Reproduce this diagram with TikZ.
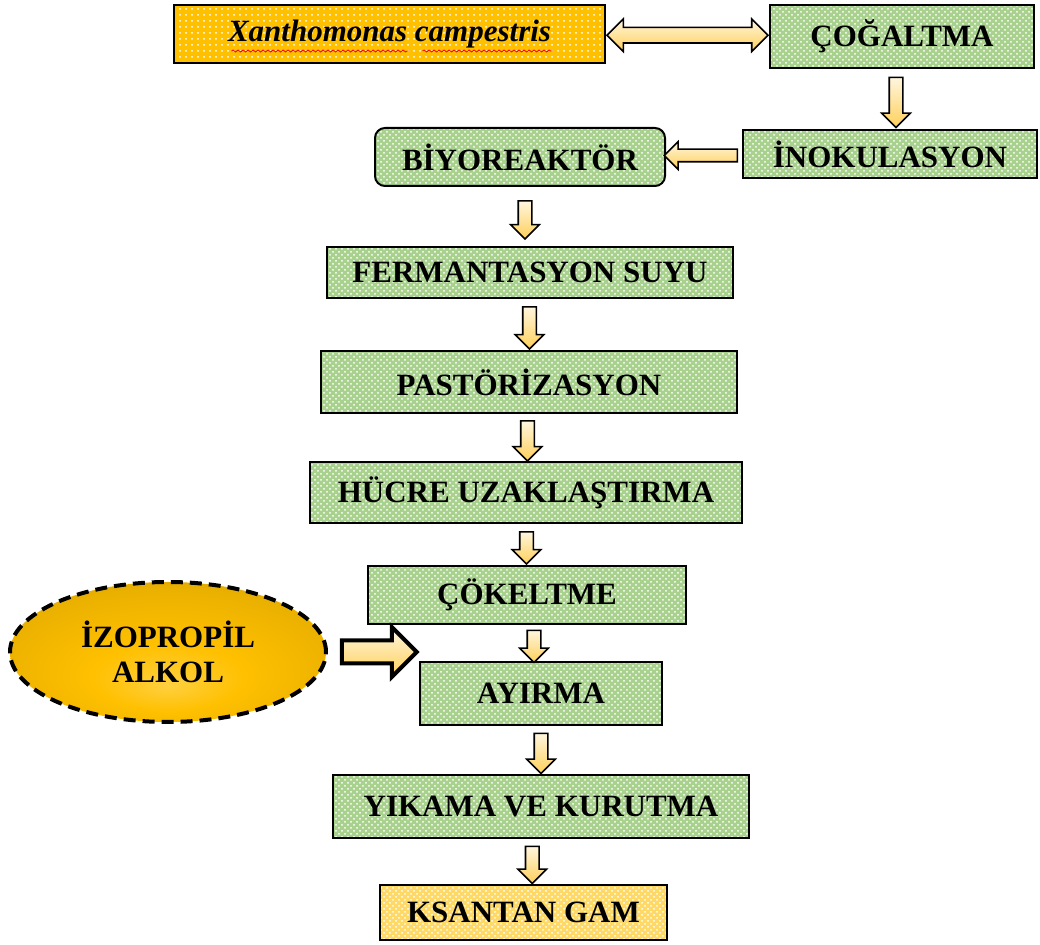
\documentclass[tikz,border=0pt]{standalone}
\usepackage{fontspec}
\setmainfont{Liberation Serif}
\usetikzlibrary{shapes.arrows,shapes.geometric,patterns,calc,decorations.pathmorphing}

\definecolor{kutuyesil}{HTML}{A9D18E}
\definecolor{xturuncu}{HTML}{FFC000}
\definecolor{gamsari}{HTML}{FFD966}
\definecolor{okacik}{HTML}{FFF6DE}
\definecolor{okkoyu}{HTML}{FFD05A}
\pgfdeclareradialshading{altin}{\pgfpoint{0bp}{-12bp}}{%
  color(0bp)=(xturuncu!75!white); color(12bp)=(xturuncu); color(28bp)=(xturuncu!92!black);
  color(42bp)=(xturuncu!72!black); color(50bp)=(xturuncu!62!black)}

\tikzset{
  yazi/.style={font=\fontsize{15.5}{17.5}\selectfont\bfseries, text=black, inner sep=0pt},
  kutu/.style={yazi, draw=black, line width=1pt, preaction={fill=kutuyesil},
    pattern=crosshatch dots, pattern color=white},
  ok/.style={single arrow, draw=black, line width=0.8pt,
    top color=okacik, bottom color=okkoyu},
  asagiok/.style={ok, shape border rotate=270, inner sep=3pt,
    single arrow head extend=3.75pt},
}

\begin{document}
\begin{tikzpicture}[x=0.5pt,y=-0.5pt]
  \useasboundingbox (0,0) rectangle (1040,945);

  \node[yazi, draw=black, line width=1pt, preaction={fill=xturuncu}, pattern=dots,
    pattern color=white, minimum width=215.5pt, minimum height=29pt]
    (xan) at (389.5,34) {\itshape Xanthomonas campestris};
  \draw[red, line width=0.4pt, decorate, decoration={snake, amplitude=0.5pt, segment length=2.5pt}]
    ($(xan.center)+(-158,17)$) -- ($(xan.center)+(19,17)$);
  \draw[red, line width=0.4pt, decorate, decoration={snake, amplitude=0.5pt, segment length=2.5pt}]
    ($(xan.center)+(33,17)$) -- ($(xan.center)+(163,17)$);

  \node[kutu, minimum width=132pt, minimum height=31.5pt] (cog) at (902,36.5) {ÇOĞALTMA};
  \node[kutu, minimum width=147pt, minimum height=24pt] (inok) at (890,154) {İNOKULASYON};
  \node[kutu, rounded corners=5pt, minimum width=145pt, minimum height=29pt] (biyo) at (520,157) {BİYOREAKTÖR};
  \node[kutu, minimum width=203pt, minimum height=25.5pt] (ferm) at (530,272.5) {FERMANTASYON SUYU};
  \node[kutu, minimum width=208pt, minimum height=31pt] (past) at (529,382) {PASTÖRİZASYON};
  \node[kutu, minimum width=216pt, minimum height=30.5pt] (hucre) at (526,492.5) {HÜCRE UZAKLAŞTIRMA};
  \node[kutu, minimum width=159pt, minimum height=29pt] (cok) at (527,595) {ÇÖKELTME};
  \node[kutu, minimum width=121pt, minimum height=31.5pt] (ayir) at (541,693.5) {AYIRMA};
  \node[kutu, minimum width=208pt, minimum height=31.5pt] (yika) at (541,806.5) {YIKAMA VE KURUTMA};
  \node[yazi, draw=black, line width=1pt, preaction={fill=gamsari}, pattern=crosshatch dots,
    pattern color=white, minimum width=143.5pt, minimum height=27.5pt]
    (gam) at (523.5,912.5) {KSANTAN GAM};

  \node[yazi, ellipse, draw=black, line width=2pt, dash pattern=on 6pt off 3.5pt,
    shading=altin, minimum width=158pt, minimum height=70pt,
    align=center] (izo) at (168,652) {İZOPROPİL\\ALKOL};

  \node[ok, double arrow, inner sep=3.5pt, double arrow head extend=4.25pt, minimum height=80.5pt]
    at ($(xan.east)!0.5!(cog.west)$) {};
  \node[asagiok, minimum height=25pt] at ($(cog.south)!0.5!(inok.north)$) {};
  \node[ok, shape border rotate=180, inner sep=2.75pt, single arrow head extend=3.75pt,
    minimum height=36.5pt] at ($(inok.west)!0.5!(biyo.east)$) {};
  \node[asagiok, minimum height=19pt] at ($(biyo.south)!0.5!(ferm.north)$) {};
  \node[asagiok, minimum height=21pt] at ($(ferm.south)!0.5!(past.north)$) {};
  \node[asagiok, minimum height=20pt] at ($(past.south)!0.5!(hucre.north)$) {};
  \node[asagiok, minimum height=16pt] at ($(hucre.south)!0.5!(cok.north)$) {};
  \node[asagiok, minimum height=16pt] at ($(cok.south)!0.5!(ayir.north)$) {};
  \node[asagiok, minimum height=20pt] at ($(ayir.south)!0.5!(yika.north)$) {};
  \node[asagiok, minimum height=18.5pt] at ($(yika.south)!0.5!(gam.north)$) {};
  \node[ok, line width=2pt, inner sep=4.75pt, single arrow head extend=6.75pt,
    minimum height=37.5pt] at ($(izo.east)!0.5!(izo.east -| ayir.west)$) {};
\end{tikzpicture}
\end{document}
